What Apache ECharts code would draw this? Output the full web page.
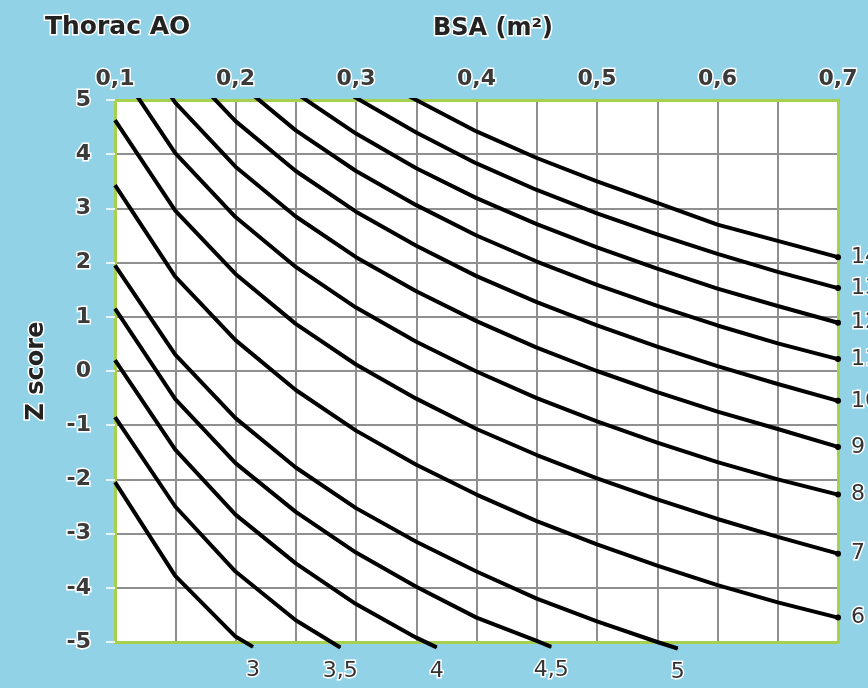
<!DOCTYPE html>
<html><head><meta charset="utf-8">
<script src="https://cdn.jsdelivr.net/npm/echarts@6/dist/echarts.min.js"></script>
<style>html,body{margin:0;padding:0;background:#91d2e6}#c{width:868px;height:688px}</style>
</head><body><div id="c"></div>
<script>
// BSA sample points (m²)
const bsa = [0.1,0.15,0.2,0.25,0.3,0.35,0.4,0.45,0.5,0.55,0.6,0.65,0.7];
// Z-score per curve (aortic diameter, mm)
const z3   = [-2.05,-3.78,-4.90];
const z3_5 = [-0.85,-2.50,-3.70,-4.60];
const z4   = [0.20,-1.45,-2.65,-3.55,-4.30,-4.92];
const z4_5 = [1.15,-0.52,-1.70,-2.60,-3.35,-3.98,-4.55,-4.98];
const z5   = [1.95,0.30,-0.87,-1.78,-2.53,-3.15,-3.70,-4.20,-4.62,-5.00];
const z6   = [3.43,1.74,0.57,-0.35,-1.10,-1.73,-2.28,-2.77,-3.20,-3.59,-3.95,-4.27,-4.55];
const z7   = [4.63,2.96,1.79,0.87,0.12,-0.51,-1.07,-1.55,-1.98,-2.37,-2.73,-3.06,-3.37];
const z8   = [5.68,4.02,2.84,1.92,1.17,0.54,-0.01,-0.50,-0.93,-1.32,-1.68,-2.00,-2.28];
const z9   = [6.61,4.95,3.77,2.85,2.10,1.47,0.92,0.43,0.00,-0.39,-0.75,-1.07,-1.40];
const z10  = [null,5.78,4.61,3.69,2.94,2.31,1.75,1.27,0.84,0.45,0.09,-0.24,-0.55];
const z11  = [null,null,5.36,4.44,3.69,3.06,2.50,2.02,1.59,1.20,0.84,0.51,0.22];
const z12  = [null,null,null,5.13,4.38,3.74,3.19,2.71,2.28,1.89,1.52,1.20,0.89];
const z13  = [null,null,null,5.76,5.04,4.40,3.83,3.34,2.91,2.52,2.16,1.83,1.53];
const z14  = [null,null,null,null,5.59,5.00,4.42,3.93,3.50,3.10,2.70,2.40,2.10];
// where the lower curves end, just below the plot
const bottomNames  = ['3','3,5','4','4,5','5'];
const bottomCurves = [z3, z3_5, z4, z4_5, z5];
const bottomEndBsa = [0.2145,0.287,0.367,0.462,0.567];
const bottomEndZ   = [-5.09,-5.10,-5.10,-5.09,-5.12];
const rightNames  = ['6','7','8','9','10','11','12','13','14'];
const rightCurves = [z6, z7, z8, z9, z10, z11, z12, z13, z14];

const FONT = 'DejaVu Sans';
const halo = {textBorderColor:'#ffffff', textBorderWidth:3};
const lineStyle = {color:'#000', width:4};
const labelText = {fontFamily:FONT, fontSize:22, color:'#333', ...halo};

const series = [];
bottomCurves.forEach((zs, k) => {
  const data = [];
  zs.forEach((v, i) => { if (v !== null) data.push({value:[bsa[i], v], symbol:'none'}); });
  data.push({value:[bottomEndBsa[k], bottomEndZ[k]], symbol:'circle', symbolSize:1,
    itemStyle:{color:'#000'},
    label:{show:true, position:'bottom', distance:12, formatter:bottomNames[k], ...labelText}});
  series.push({type:'line', name:bottomNames[k], data, clip:false, showSymbol:true,
    symbol:'none', lineStyle, silent:true, z:5});
});
rightCurves.forEach((zs, k) => {
  const data = [];
  zs.forEach((v, i) => {
    if (v === null) return;
    const last = i === zs.length - 1;
    data.push(last ? {value:[bsa[i], v], symbol:'circle', symbolSize:6,
      itemStyle:{color:'#000'},
      label:{show:true, position:'right', distance:10, formatter:rightNames[k], ...labelText}}
      : {value:[bsa[i], v], symbol:'none'});
  });
  series.push({type:'line', name:rightNames[k], data, clip:true, showSymbol:true,
    symbol:'none', lineStyle, silent:true, z:5});
});

const edge = {show:true, onZero:false, lineStyle:{color:'#a6d04e', width:3}};
const chart = echarts.init(document.getElementById('c'), null, {renderer:'canvas'});
chart.setOption({
  backgroundColor:'#91d2e6',
  animation:false,
  title:[
    {text:'Thorac AO', left:40, top:10, textStyle:{fontFamily:FONT, fontWeight:'bold', fontSize:25, color:'#222', ...halo}},
    {text:'BSA (m²)', left:428, top:12, textStyle:{fontFamily:FONT, fontWeight:'bold', fontSize:24, color:'#222', ...halo}}
  ],
  grid:{left:115, right:30, top:100, bottom:46, show:true, backgroundColor:'#ffffff', borderWidth:0},
  xAxis:[{
    type:'value', position:'top', min:0.1, max:0.7, interval:0.05,
    axisLine:edge,
    axisTick:{show:false},
    axisLabel:{margin:10, fontFamily:FONT, fontSize:22, fontWeight:'bold', color:'#3a3a3a', ...halo,
      formatter:v => Math.abs(v*10 - Math.round(v*10)) < 1e-6 ? v.toFixed(1).replace('.', ',') : ''},
    splitLine:{show:true, lineStyle:{color:'#8f8f8f', width:2}}
  },{
    type:'value', position:'bottom', min:0.1, max:0.7, interval:0.05,
    axisLine:edge, axisTick:{show:false}, axisLabel:{show:false}, splitLine:{show:false}
  }],
  yAxis:[{
    type:'value', min:-5, max:5, interval:1,
    name:'Z score', nameLocation:'middle', nameGap:66, nameRotate:90,
    nameTextStyle:{fontFamily:FONT, fontWeight:'bold', fontSize:24, color:'#222', ...halo},
    axisLine:edge,
    axisTick:{show:true, length:9, lineStyle:{color:'#e8f4f8', width:2}},
    axisLabel:{margin:24, fontFamily:FONT, fontSize:22, fontWeight:'bold', color:'#3a3a3a', ...halo},
    splitLine:{show:true, lineStyle:{color:'#8f8f8f', width:2}}
  },{
    type:'value', position:'right', min:-5, max:5, interval:1,
    axisLine:edge, axisTick:{show:false}, axisLabel:{show:false}, splitLine:{show:false}
  }],
  series
});
</script>
</body></html>
